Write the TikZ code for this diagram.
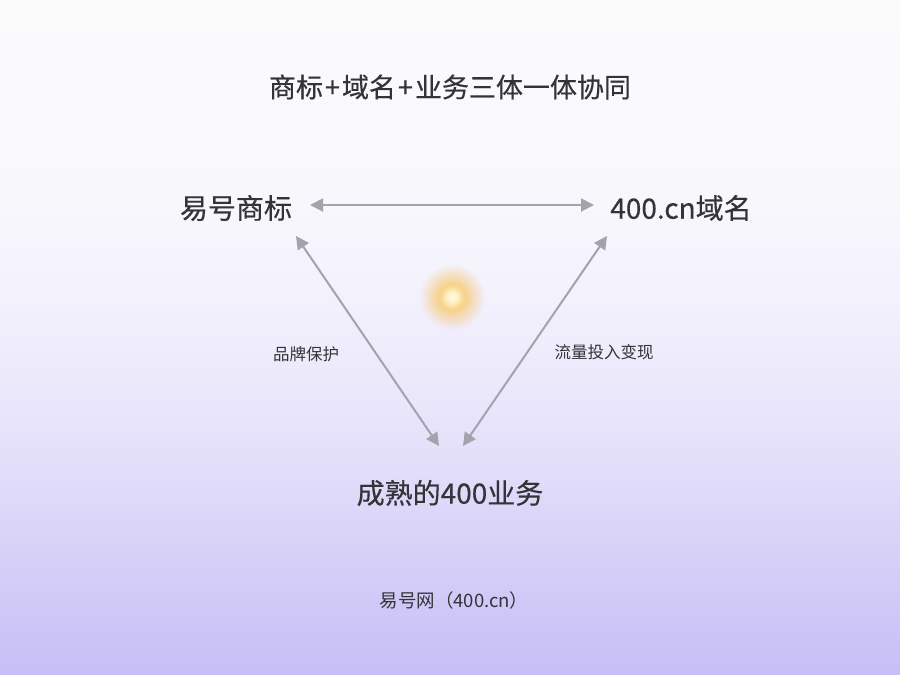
\documentclass[tikz,border=0pt]{standalone}
\usepackage{fontspec}
\setmainfont{Noto Sans CJK SC}
\newfontfamily\bigfont[FakeBold=0.4]{Noto Sans CJK SC}
\usetikzlibrary{arrows.meta,fadings}
\definecolor{txt}{RGB}{51,51,56}
\definecolor{arr}{RGB}{163,163,172}
\pgfdeclareverticalshading{bgshade}{100bp}{%
  color(0bp)=(rgb,255:red,198;green,190;blue,246);
  color(25bp)=(rgb,255:red,198;green,190;blue,246);
  color(30.5bp)=(rgb,255:red,208;green,201;blue,247);
  color(38bp)=(rgb,255:red,222;green,217;blue,249);
  color(45.5bp)=(rgb,255:red,234;green,231;blue,251);
  color(53bp)=(rgb,255:red,243;green,241;blue,252);
  color(60bp)=(rgb,255:red,248;green,247;blue,252);
  color(75bp)=(rgb,255:red,251;green,251;blue,252);
  color(100bp)=(rgb,255:red,251;green,251;blue,252)}
\pgfdeclareradialshading{glowshade}{\pgfpoint{0bp}{0bp}}{%
  color(0bp)=(rgb,255:red,255;green,252;blue,235);
  color(4bp)=(rgb,255:red,255;green,242;blue,195);
  color(10bp)=(rgb,255:red,248;green,204;blue,115);
  color(25bp)=(rgb,255:red,244;green,200;blue,140);
  color(50bp)=(rgb,255:red,244;green,200;blue,140)}
\pgfdeclareradialshading{glowmask}{\pgfpoint{0bp}{0bp}}{%
  color(0bp)=(white);
  color(8bp)=(white!92!black);
  color(16bp)=(white!50!black);
  color(25bp)=(black);
  color(50bp)=(black)}
\pgfdeclarefading{glowfade}{\pgfuseshading{glowmask}}
\tikzset{
  big/.style={text=txt, font=\bigfont\fontsize{28}{32}\selectfont, inner sep=2pt},
  small/.style={text=txt, font=\fontsize{16.5}{20}\selectfont, inner sep=1pt},
  conn/.style={draw=arr, line width=2pt, {Triangle[length=13pt,width=13pt]}-{Triangle[length=13pt,width=13pt]}}
}
\begin{document}
\begin{tikzpicture}[x=1pt,y=-1pt]
\useasboundingbox (0,0) rectangle (900,675);
\shade[shading=bgshade] (0,0) rectangle (900,675);
\coordinate (glow) at (452,297);
\shade[shading=glowshade, path fading=glowfade] (glow) circle (33);
\node[big, font=\bigfont\fontsize{27}{32}\selectfont] (title) at (450,87) {商标\hspace{2pt}+\hspace{2pt}域名\hspace{2pt}+\hspace{2pt}业务三体一体协同};
\node[big] (tm) at (236,208) {易号商标};
\node[big] (dom) at (681,208) {400.cn域名};
\node[big] (biz) at (450,493) {成熟的400业务};
\node[small] (l1) at (306,354) {品牌保护};
\node[small] (l2) at (604,352) {流量投入变现};
\node[text=txt, font=\fontsize{18.5}{22}\selectfont] (foot) at (454,600) {易号网（400.cn）};
\coordinate (a1) at (310,205);
\coordinate (a2) at (594,205);
\coordinate (b1) at (296,236);
\coordinate (b2) at (439,446);
\coordinate (c1) at (607,236);
\coordinate (c2) at (463,446);
\draw[conn] (a1) -- (a2);
\draw[conn] (b1) -- (b2);
\draw[conn] (c1) -- (c2);
\end{tikzpicture}
\end{document}
